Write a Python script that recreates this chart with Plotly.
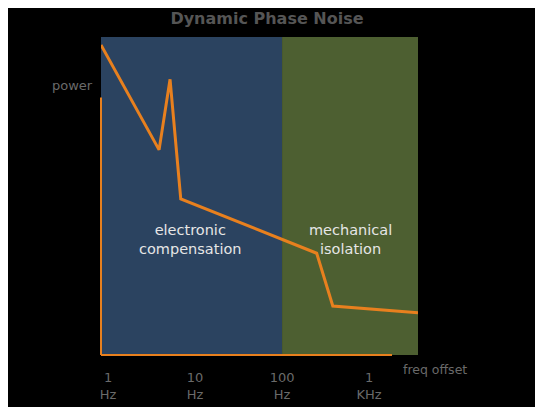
import numpy as np
import plotly.graph_objects as go

# Data
freq_hz = [0.83, 3.86, 5.16, 6.85, 250, 383, 3650]
power = [97.5, 64.5, 86.7, 49.1, 32.0, 15.4, 13.3]
tick_freqs = [1, 10, 100, 1000]
tick_labels = ["1<br>Hz", "10<br>Hz", "100<br>Hz", "1<br>KHz"]
region_names = ["electronic<br>compensation", "mechanical<br>isolation"]
region_bounds_hz = [0.83, 100, 3650]
region_colors = ["#2B4360", "#4D5F31"]

ORANGE = "#E8801E"
GRAY = "#6A6A6A"
FONT = "DejaVu Sans"

lx = np.log10(freq_hz)
xr = [float(np.log10(region_bounds_hz[0])), float(np.log10(region_bounds_hz[-1]))]

fig = go.Figure()
fig.add_trace(go.Scatter(x=lx, y=power, mode="lines",
                         line=dict(color=ORANGE, width=3), hoverinfo="skip"))

shapes = []
for i, c in enumerate(region_colors):
    shapes.append(dict(type="rect", xref="x", yref="paper", layer="below",
                       x0=float(np.log10(region_bounds_hz[i])), x1=float(np.log10(region_bounds_hz[i + 1])),
                       y0=0, y1=1, fillcolor=c, line=dict(width=0)))
# orange axis lines
shapes.append(dict(type="line", xref="paper", yref="paper", x0=0, x1=0, y0=0, y1=0.81,
                   line=dict(color=ORANGE, width=2)))
shapes.append(dict(type="line", xref="paper", yref="paper", x0=0, x1=0.918, y0=0, y1=0,
                   line=dict(color=ORANGE, width=2)))

fig.update_layout(
    width=543, height=407,
    paper_bgcolor="black", plot_bgcolor="black",
    margin=dict(l=93, r=133, t=29, b=60),
    showlegend=False,
    title=dict(text="<b>Dynamic Phase Noise</b>", x=(267 - 8) / 543, xanchor="center",
               y=1 - (18 - 8) / 407, yanchor="middle",
               font=dict(color="#555555", size=16, family=FONT)),
    xaxis=dict(range=xr, tickvals=[float(np.log10(t)) for t in tick_freqs], ticktext=tick_labels,
               showgrid=False, zeroline=False, showline=False,
               tickfont=dict(color=GRAY, size=13, family=FONT), ticks="outside", ticklen=10,
               tickcolor="rgba(0,0,0,0)"),
    yaxis=dict(range=[0, 100], showgrid=False, zeroline=False, showline=False, showticklabels=False),
    shapes=shapes,
)

fig.add_annotation(x=(72 - 101) / 317, y=(355 - 86) / 318, xref="paper", yref="paper", text="power",
                   xanchor="center", yanchor="middle", showarrow=False,
                   font=dict(color=GRAY, size=13, family=FONT))
fig.add_annotation(x=(435 - 101) / 317, y=(355 - 369) / 318, xref="paper", yref="paper", text="freq offset",
                   xanchor="center", yanchor="middle", showarrow=False,
                   font=dict(color=GRAY, size=12.5, family=FONT))
for name, px in zip(region_names, [190, 350]):
    fig.add_annotation(x=(px - 101) / 317, y=(355 - 239) / 318, xref="paper", yref="paper", text=name,
                       xanchor="center", yanchor="middle", showarrow=False,
                       font=dict(color="#E6E6E6", size=14.5, family=FONT))

fig.write_html("out.html")
